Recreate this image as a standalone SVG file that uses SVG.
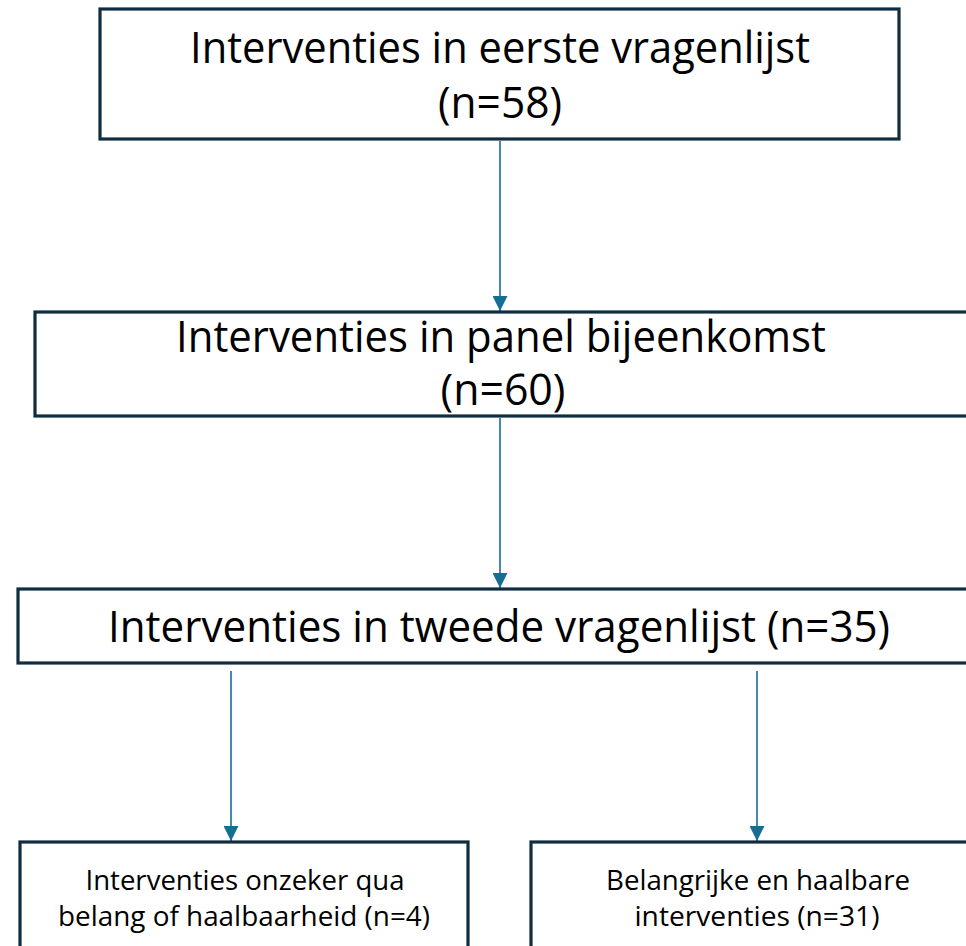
<svg xmlns="http://www.w3.org/2000/svg" width="966" height="946" viewBox="0 0 966 946">
  <style>
    .box { fill: #ffffff; stroke: #0f2d40; stroke-width: 3.2; }
    .big { font-family: "Open Sans", "Liberation Sans", sans-serif; font-size: 43px; fill: #000000; text-anchor: middle; }
    .small { font-family: "Open Sans", "Liberation Sans", sans-serif; font-size: 27px; fill: #000000; text-anchor: middle; }
    .link { stroke: #156f94; stroke-width: 1.6; fill: none; marker-end: url(#head); }
  </style>
  <defs>
    <marker id="head" viewBox="0 0 10 10" refX="10" refY="5" markerUnits="userSpaceOnUse" markerWidth="15" markerHeight="15" orient="auto">
      <path d="M0,0 L10,5 L0,10 z" fill="#156f94"/>
    </marker>
  </defs>
  <rect width="966" height="946" fill="#ffffff"/>

  <g id="connectors">
    <line class="link" x1="500" y1="141" x2="500" y2="311"/>
    <line class="link" x1="500" y1="418" x2="500" y2="588"/>
    <line class="link" x1="231" y1="671" x2="231" y2="841"/>
    <line class="link" x1="757" y1="671" x2="757" y2="841"/>
  </g>

  <g id="node-eerste">
    <rect class="box" x="100" y="9" width="799" height="130"/>
    <text class="big" x="500" y="63" textLength="620" lengthAdjust="spacingAndGlyphs">Interventies in eerste vragenlijst</text>
    <text class="big" x="500" y="118" textLength="124" lengthAdjust="spacingAndGlyphs">(n=58)</text>
  </g>

  <g id="node-panel">
    <rect class="box" x="35" y="312" width="940" height="104"/>
    <text class="big" x="501" y="352" textLength="650" lengthAdjust="spacingAndGlyphs">Interventies in panel bijeenkomst</text>
    <text class="big" x="503" y="405" textLength="125" lengthAdjust="spacingAndGlyphs">(n=60)</text>
  </g>

  <g id="node-tweede">
    <rect class="box" x="18" y="589" width="960" height="74"/>
    <text class="big" x="499" y="642" textLength="782" lengthAdjust="spacingAndGlyphs">Interventies in tweede vragenlijst (n=35)</text>
  </g>

  <g id="node-onzeker">
    <rect class="box" x="20" y="842" width="448" height="120"/>
    <text class="small" x="245" y="890" textLength="319" lengthAdjust="spacingAndGlyphs">Interventies onzeker qua</text>
    <text class="small" x="244" y="926" textLength="372" lengthAdjust="spacingAndGlyphs">belang of haalbaarheid (n=4)</text>
  </g>

  <g id="node-haalbaar">
    <rect class="box" x="531" y="842" width="460" height="120"/>
    <text class="small" x="758" y="890" textLength="304" lengthAdjust="spacingAndGlyphs">Belangrijke en haalbare</text>
    <text class="small" x="757" y="926" textLength="245" lengthAdjust="spacingAndGlyphs">interventies (n=31)</text>
  </g>
</svg>
